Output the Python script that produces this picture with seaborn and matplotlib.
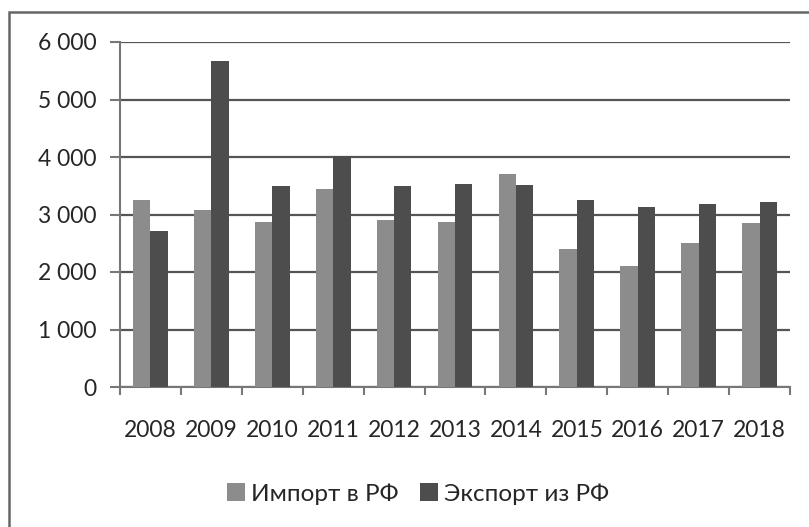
import pandas as pd
import matplotlib.pyplot as plt
import seaborn as sns
from matplotlib.patches import Rectangle
from matplotlib.ticker import FuncFormatter

# data
years = ['2008', '2009', '2010', '2011', '2012', '2013', '2014', '2015', '2016', '2017', '2018']
imports = [3246, 3072, 2870, 3438, 2910, 2870, 3710, 2394, 2099, 2499, 2846]
exports = [2707, 5670, 3496, 4023, 3496, 3536, 3519, 3258, 3136, 3183, 3212]
series = ['Импорт в РФ', 'Экспорт из РФ']

df = pd.DataFrame({
    'Год': years * 2,
    'Значение': imports + exports,
    'Ряд': [series[0]] * len(years) + [series[1]] * len(years),
})

sns.set_style('white')
plt.rcParams['font.family'] = ['Lato', 'DejaVu Sans']

fig = plt.figure(figsize=(8.09, 5.27), dpi=100)
ax = fig.add_axes([120 / 809, 140 / 527, 670 / 809, 345 / 527])

sns.barplot(data=df, x='Год', y='Значение', hue='Ряд', order=years,
            palette=['#8c8c8c', '#4d4d4d'], width=0.57, gap=0,
            saturation=1, linewidth=0, ax=ax, zorder=3)

ax.set_ylim(0, 6000)
ax.set_xlim(-0.5, len(years) - 0.5)
ax.set_yticks(range(0, 6001, 1000))
ax.yaxis.set_major_formatter(FuncFormatter(lambda v, p: f'{int(v):,}'.replace(',', ' ')))
ax.set_xlabel('')
ax.set_ylabel('')

ax.grid(axis='y', color='#555555', linewidth=1.6, zorder=0)
for side in ['top', 'right']:
    ax.spines[side].set_visible(False)
for side in ['left', 'bottom']:
    ax.spines[side].set_color('#777777')
    ax.spines[side].set_linewidth(1.5)

ax.tick_params(axis='y', which='major', left=True, length=7, width=1.5,
               color='#777777', labelsize=16.5, pad=10)
ax.tick_params(axis='x', which='major', bottom=False, labelsize=16.5, pad=20)
ax.set_xticks([i - 0.5 for i in range(len(years) + 1)], minor=True)
ax.tick_params(axis='x', which='minor', bottom=True, length=6, width=1.5,
               color='#777777', direction='out')

ax.legend(loc='center', bbox_to_anchor=(418 / 809, 33 / 527),
          bbox_transform=fig.transFigure, ncol=2, frameon=False,
          fontsize=17.5, handlelength=0.75, handleheight=0.75,
          handletextpad=0.25, columnspacing=0.9)

# outer chart border (only top and left visible in the crop)
fig.patches.append(Rectangle((9 / 809, -0.1), 1.2, 1 - 12 / 527 + 0.1,
                             transform=fig.transFigure, fill=False,
                             edgecolor='#666666', linewidth=1.8))

fig.savefig('out.png', dpi=100)
